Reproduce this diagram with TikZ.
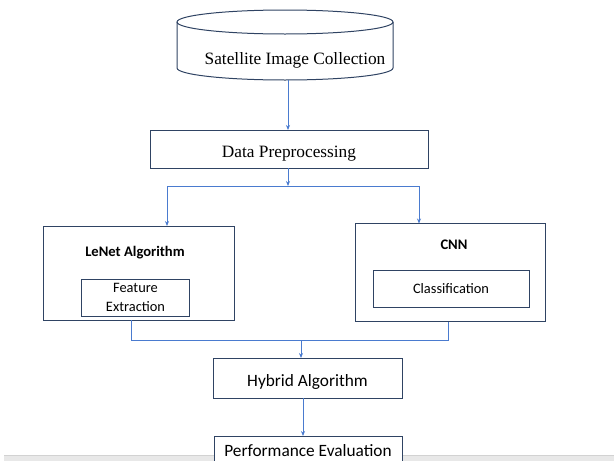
\documentclass[tikz,border=0pt]{standalone}
\usepackage{fontspec}
\setmainfont{Liberation Serif}
\newfontfamily\calibri{Carlito}
\usetikzlibrary{arrows.meta}

\definecolor{boxline}{HTML}{2F4363}
\definecolor{linkblue}{HTML}{4A7BCF}

\tikzset{
	box/.style={draw=boxline, line width=1pt, fill=white, inner sep=0pt, outer sep=0pt},
	link/.style={draw=linkblue, line width=0.9pt, -{Stealth[length=5pt,width=4pt]}},
	wire/.style={draw=linkblue, line width=0.9pt},
	serif/.style={font=\fontsize{17.3}{20}\selectfont},
	sans/.style={font=\calibri\fontsize{17.3}{20}\selectfont},
	small/.style={font=\calibri\fontsize{14.4}{19}\selectfont, align=center},
	title/.style={font=\calibri\bfseries\fontsize{14.6}{18}\selectfont},
	lowtext/.style={text height=16pt, text depth=0pt}
}

\begin{document}
\begin{tikzpicture}[x=1pt, y=-1pt]
		\useasboundingbox (0,0) rectangle (614,461);
		% strip along the lower edge
		\fill[gray!18] (4,455) rectangle (614,461);
		\draw[gray!35] (4,455) -- (614,455);

		% data source drawn as a drum
		\node[minimum width=216pt, minimum height=70pt, inner sep=0pt, outer sep=0pt] (store) at (285,45) {};
		\draw[boxline, line width=1pt] (285,22) ellipse[x radius=108, y radius=12];
		\draw[boxline, line width=1pt] (177,22) -- (177,68) arc[start angle=180, end angle=0, x radius=108, y radius=12] -- (393,22);
		\node[serif] (storetext) at (295,60) {Satellite Image Collection};

		\node[box, serif, lowtext, minimum width=278pt, minimum height=38pt] (prep) at (289,149) {Data Preprocessing};

		% the two models
		\node[box, minimum width=191pt, minimum height=94pt] (lenet) at (138.5,273) {};
		\node[title] (lenettitle) at (135,253) {LeNet Algorithm};
		\node[box, small, minimum width=108pt, minimum height=37pt] (feat) at (135.5,297.5) {Feature\\Extraction};

		\node[box, minimum width=190pt, minimum height=98pt] (cnn) at (450,272.5) {};
		\node[title] (cnntitle) at (454,245) {CNN};
		\node[box, small, minimum width=156pt, minimum height=37pt] (cls) at (451,288.5) {Classification};

		\node[box, sans, lowtext, minimum width=189pt, minimum height=40pt] (hybrid) at (307.5,378) {Hybrid Algorithm};
		\node[box, sans, text height=10pt, text depth=10pt, minimum width=188pt, minimum height=40pt] (perf) at (308,456) {Performance Evaluation};

		% split after preprocessing
		\coordinate (split) at (288,186);
		\coordinate (lsplit) at (167,186);
		\coordinate (rsplit) at (419,186);
		\draw[link] (store.south -| split) -- (prep.north -| split);
		\draw[link] (prep.south -| split) -- (split);
		\draw[wire] (lsplit) -- (rsplit);
		\draw[link] (lsplit) -- (lsplit |- lenet.north);
		\draw[link] (rsplit) -- (rsplit |- cnn.north);

		% merge into the hybrid
		\coordinate (lmerge) at (131,340);
		\coordinate (rmerge) at (448,340);
		\coordinate (merge) at (301,340);
		\coordinate (down) at (303,0);
		\draw[wire] (lmerge |- lenet.south) -- (lmerge) -- (rmerge) -- (rmerge |- cnn.south);
		\draw[link] (merge) -- (merge |- hybrid.north);
		\draw[link] (down |- hybrid.south) -- (down |- perf.north);
	\end{tikzpicture}
\end{document}
